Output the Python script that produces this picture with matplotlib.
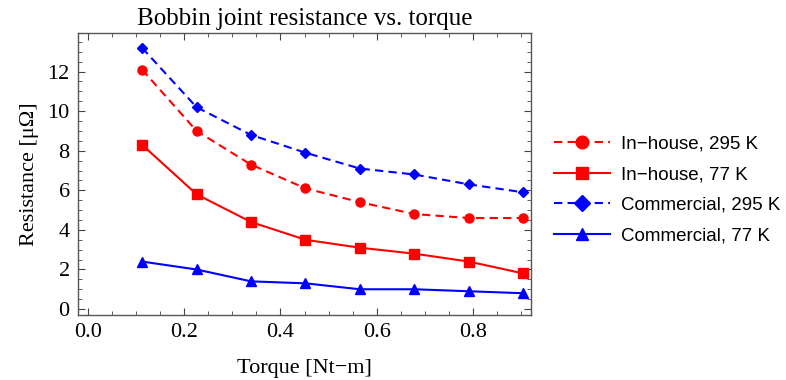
import matplotlib
matplotlib.use("Agg")
import matplotlib.pyplot as plt
from matplotlib.ticker import MultipleLocator
import numpy as np

# torque in N-m (1..8 in-lb)
torque = [0.113, 0.226, 0.339, 0.452, 0.565, 0.678, 0.791, 0.904]
inhouse_295 = [12.1, 9.0, 7.3, 6.1, 5.4, 4.8, 4.6, 4.6]
inhouse_77 = [8.3, 5.8, 4.4, 3.5, 3.1, 2.8, 2.4, 1.8]
commercial_295 = [13.2, 10.2, 8.8, 7.9, 7.1, 6.8, 6.3, 5.9]
commercial_77 = [2.4, 2.0, 1.4, 1.3, 1.0, 1.0, 0.9, 0.8]

serif = ["Liberation Serif", "DejaVu Serif"]
sans = ["Liberation Sans", "DejaVu Sans"]

fig = plt.figure(figsize=(7.86, 3.8), dpi=100)
ax = fig.add_axes([78 / 786, 65 / 380, 453 / 786, 282 / 380])

ax.plot(torque, inhouse_295, "--", color="#ff0000", marker="o", markersize=6.5,
        lw=1.5, dashes=(4, 2.5), label="In\u2212house, 295 K")
ax.plot(torque, inhouse_77, "-", color="#ff0000", marker="s", markersize=6.5,
        lw=1.5, label="In\u2212house, 77 K")
ax.plot(torque, commercial_295, "--", color="#0000ff", marker="D", markersize=5.5,
        lw=1.5, dashes=(4, 2.5), label="Commercial, 295 K")
ax.plot(torque, commercial_77, "-", color="#0000ff", marker="^", markersize=6.5,
        lw=1.5, label="Commercial, 77 K")

ax.set_xlim(-0.02, 0.92)
ax.set_ylim(-0.3, 13.95)
ax.xaxis.set_major_locator(MultipleLocator(0.2))
ax.xaxis.set_minor_locator(MultipleLocator(0.05))
ax.yaxis.set_major_locator(MultipleLocator(2))
ax.yaxis.set_minor_locator(MultipleLocator(0.5))
ax.xaxis.set_major_formatter(matplotlib.ticker.FormatStrFormatter("%.1f"))

ax.tick_params(which="both", direction="in", top=True, right=True, color="#444444")
ax.tick_params(which="major", length=5, width=0.8, labelsize=16, pad=6)
ax.tick_params(which="minor", length=3, width=0.6)
for lab in ax.get_xticklabels() + ax.get_yticklabels():
    lab.set_family(serif)
for s in ax.spines.values():
    s.set_color("#555555")
    s.set_linewidth(1.0)

ax.set_title("Bobbin joint resistance vs. torque", family=serif, fontsize=18, pad=6)
ax.set_xlabel("Torque [Nt\u2212m]", family=serif, fontsize=16, labelpad=12)
ax.set_ylabel("Resistance [\u03bc\u03a9]", family=serif, fontsize=16, labelpad=6)

leg = ax.legend(loc="center left", bbox_to_anchor=(1.0, 0.443), frameon=False,
                prop={"family": sans, "size": 13.5}, handlelength=3.0,
                handletextpad=0.55, markerscale=1.4,
                labelspacing=0.72, borderaxespad=0.83)

fig.savefig("out.png", dpi=100)
